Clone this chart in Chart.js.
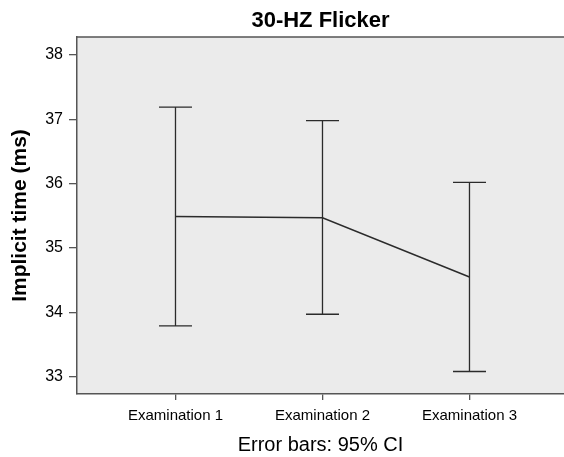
<!DOCTYPE html>
<html>
<head>
<meta charset="utf-8">
<script src="https://cdn.jsdelivr.net/npm/chart.js@4"></script>
<style>
  html, body { margin: 0; padding: 0; background: #fff; }
  #wrap { width: 564px; height: 457px; position: relative; }
</style>
</head>
<body>
<div id="wrap"><canvas id="flicker-chart"></canvas></div>
<script>
const categories = ['Examination 1', 'Examination 2', 'Examination 3'];
const means = [35.49, 35.47, 34.55];
const ciLower = [33.79, 33.97, 33.08];
const ciUpper = [37.19, 36.98, 36.02];
const yTicks = [33, 34, 35, 36, 37, 38];

const FONT = "'Liberation Sans', Arial, sans-serif";
const LINE = '#2b2b2b';
const AXIS = '#555555';

// grey plot background plus the top frame line
const plotFrame = {
    id: 'plotFrame',
    afterLayout(chart) {
        // centre the title over the plot area instead of the whole canvas
        const a = chart.chartArea;
        if (chart.titleBlock) {
            chart.titleBlock.left = a.left;
            chart.titleBlock.right = a.right;
        }
    },
    beforeDraw(chart) {
        const { ctx, chartArea: a } = chart;
        ctx.save();
        ctx.fillStyle = '#ebebeb';
        ctx.fillRect(a.left, a.top, a.right - a.left, a.bottom - a.top);
        ctx.strokeStyle = AXIS;
        ctx.lineWidth = 1.5;
        ctx.beginPath();
        ctx.moveTo(a.left, a.top);
        ctx.lineTo(a.right, a.top);
        ctx.stroke();
        ctx.restore();
    }
};

// 95% CI whiskers
const errorBars = {
    id: 'errorBars',
    afterDatasetsDraw(chart) {
        const { ctx, scales: { x, y } } = chart;
        const cap = 16.5;
        ctx.save();
        ctx.strokeStyle = LINE;
        ctx.lineWidth = 1.3;
        categories.forEach((c, i) => {
            const px = x.getPixelForValue(i + 1);
            const lo = y.getPixelForValue(ciLower[i]);
            const hi = y.getPixelForValue(ciUpper[i]);
            ctx.beginPath();
            ctx.moveTo(px, lo);
            ctx.lineTo(px, hi);
            ctx.moveTo(px - cap, hi);
            ctx.lineTo(px + cap, hi);
            ctx.moveTo(px - cap, lo);
            ctx.lineTo(px + cap, lo);
            ctx.stroke();
        });
        ctx.restore();
    }
};

new Chart(document.getElementById('flicker-chart'), {
    type: 'line',
    data: {
        datasets: [{
            label: 'Mean',
            data: means.map((m, i) => ({ x: i + 1, y: m })),
            borderColor: LINE,
            borderWidth: 1.5,
            pointRadius: 0,
            tension: 0,
            fill: false
        }]
    },
    options: {
        responsive: true,
        maintainAspectRatio: false,
        animation: false,
        layout: { padding: 0 },
        plugins: {
            legend: { display: false },
            tooltip: { enabled: false },
            title: {
                display: true,
                text: '30-HZ Flicker',
                color: '#000',
                font: { family: FONT, size: 22, weight: 'bold' },
                padding: { top: 8, bottom: 2.6 }
            }
        },
        scales: {
            x: {
                type: 'linear',
                min: 0.33,
                max: 3.643,
                afterBuildTicks: scale => {
                    scale.ticks = categories.map((c, i) => ({ value: i + 1 }));
                },
                afterFit: scale => { scale.height = 63; },
                grid: {
                    drawOnChartArea: false,
                    drawTicks: true,
                    tickLength: 6,
                    color: AXIS,
                    lineWidth: 1.3
                },
                border: { display: true, color: AXIS, width: 1.5 },
                ticks: {
                    autoSkip: false,
                    maxRotation: 0,
                    padding: 7,
                    color: '#000',
                    font: { family: FONT, size: 15 },
                    callback: v => categories[v - 1]
                },
                title: {
                    display: true,
                    text: 'Error bars: 95% CI',
                    color: '#000',
                    font: { family: FONT, size: 20 },
                    padding: { top: 0, bottom: 0 }
                }
            },
            y: {
                min: 32.73,
                max: 38.28,
                afterBuildTicks: scale => {
                    scale.ticks = yTicks.map(v => ({ value: v }));
                },
                afterFit: scale => { scale.width = 77; },
                grid: {
                    drawOnChartArea: false,
                    drawTicks: true,
                    tickLength: 8,
                    color: AXIS,
                    lineWidth: 1.3
                },
                border: { display: true, color: AXIS, width: 1.5 },
                ticks: {
                    padding: 6,
                    color: '#000',
                    font: { family: FONT, size: 16 }
                },
                title: {
                    display: true,
                    text: 'Implicit time (ms)',
                    color: '#000',
                    font: { family: FONT, size: 21, weight: 'bold' },
                    padding: { top: 7.4, bottom: 0 }
                }
            }
        }
    },
    plugins: [plotFrame, errorBars]
});
</script>
</body>
</html>
